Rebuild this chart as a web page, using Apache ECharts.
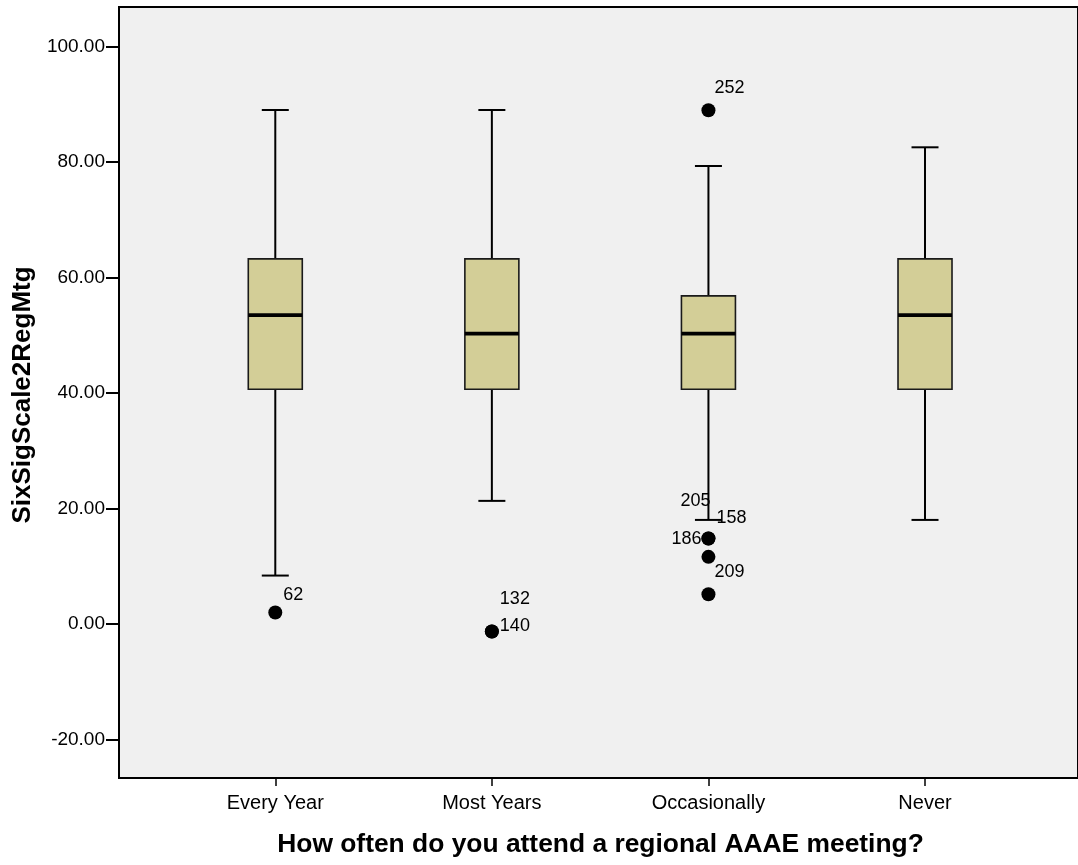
<!DOCTYPE html>
<html>
<head>
<meta charset="utf-8">
<style>
  html, body { margin: 0; padding: 0; background: #ffffff; }
  #chart { width: 1078px; height: 865px; }
</style>
<script src="https://cdn.jsdelivr.net/npm/echarts@6/dist/echarts.min.js"></script>
</head>
<body>
<div id="chart"></div>
<script>
// ---- data ----
var categories = ['Every Year', 'Most Years', 'Occasionally', 'Never'];
var whiskerLow  = [8.37, 21.31, 18.01, 18.01];
var quartile1   = [40.66, 40.66, 40.66, 40.66];
var medians     = [53.49, 50.29, 50.29, 53.49];
var quartile3   = [63.23, 63.23, 56.82, 63.23];
var whiskerHigh = [89.03, 89.03, 79.33, 82.57];

var outlierCategory = [0, 1, 1, 2, 2, 2, 2, 2];
var outlierValue    = [1.96, -1.33, -1.33, 88.98, 14.78, 14.78, 11.61, 5.14];
var outlierCase     = ['62', '132', '140', '252', '158', '205', '186', '209'];

var yTicks = [-20, 0, 20, 40, 60, 80, 100];

var xTitle = 'How often do you attend a regional AAAE meeting?';
var yTitle = 'SixSigScale2RegMtg';

// ---- label placement (styling, not data) ----
var labelPlacement = {
  '62':  { dx: 8,  dy: -18, align: 'left' },
  '132': { dx: 8,  dy: -33, align: 'left' },
  '140': { dx: 8,  dy: -6,  align: 'left' },
  '252': { dx: 6,  dy: -22, align: 'left' },
  '158': { dx: 8,  dy: -21, align: 'left' },
  '205': { dx: 2,  dy: -38, align: 'right' },
  '186': { dx: -7, dy: -18, align: 'right' },
  '209': { dx: 6,  dy: -22, align: 'left' }
};

var FONT = "'Liberation Sans', Arial, Helvetica, sans-serif";

var boxData = categories.map(function (c, i) {
  return [i, whiskerLow[i], quartile1[i], medians[i], quartile3[i], whiskerHigh[i]];
});
var outlierData = outlierValue.map(function (v, i) {
  return [outlierCategory[i], v, outlierCase[i]];
});

var chart = echarts.init(document.getElementById('chart'), null, { renderer: 'canvas' });

var option = {
  animation: false,
  backgroundColor: '#ffffff',
  grid: [
    { // frame
      left: 119, top: 7, width: 1000, bottom: 87,
      show: true, backgroundColor: '#f0f0f0', borderColor: '#000', borderWidth: 2
    },
    { // data grid
      left: 167, right: 44.7, top: 46.7, bottom: 125.7
    }
  ],
  xAxis: [
    { gridIndex: 0, type: 'value', show: false, min: 0, max: 1 },
    {
      gridIndex: 1, type: 'category', data: categories, boundaryGap: true,
      position: 'bottom',
      offset: 38.7,
      axisLine: { show: false, onZero: false },
      axisTick: { show: true, alignWithLabel: true, length: 8, lineStyle: { color: '#000', width: 1.5 } },
      axisLabel: { color: '#000', fontSize: 20, fontFamily: FONT, margin: 15 },
      splitLine: { show: false }
    }
  ],
  yAxis: [
    { gridIndex: 0, type: 'value', show: false, min: 0, max: 1 },
    {
      gridIndex: 1, type: 'value', min: yTicks[0], max: yTicks[yTicks.length - 1], interval: 20,
      offset: 48,
      axisLine: { show: false, onZero: false },
      axisTick: { show: true, length: 13, lineStyle: { color: '#000', width: 2 } },
      axisLabel: {
        color: '#000', fontSize: 19, fontFamily: FONT, margin: 14,
        formatter: function (v) { return v.toFixed(2); }
      },
      splitLine: { show: false }
    }
  ],
  series: [
    {
      type: 'custom',
      xAxisIndex: 1, yAxisIndex: 1,
      data: boxData,
      encode: { x: 0, y: [1, 2, 3, 4, 5] },
      z: 3,
      renderItem: function (params, api) {
        var x = api.value(0);
        var pLo = api.coord([x, api.value(1)]);
        var pQ1 = api.coord([x, api.value(2)]);
        var pMed = api.coord([x, api.value(3)]);
        var pQ3 = api.coord([x, api.value(4)]);
        var pHi = api.coord([x, api.value(5)]);
        var cx = pLo[0];
        var halfBox = 27, halfCap = 13.5;
        var lineStyle = { stroke: '#000', lineWidth: 2 };
        return {
          type: 'group',
          children: [
            { type: 'line', shape: { x1: cx, y1: pHi[1], x2: cx, y2: pQ3[1] }, style: lineStyle },
            { type: 'line', shape: { x1: cx, y1: pQ1[1], x2: cx, y2: pLo[1] }, style: lineStyle },
            { type: 'line', shape: { x1: cx - halfCap, y1: pHi[1], x2: cx + halfCap, y2: pHi[1] }, style: lineStyle },
            { type: 'line', shape: { x1: cx - halfCap, y1: pLo[1], x2: cx + halfCap, y2: pLo[1] }, style: lineStyle },
            { type: 'rect', shape: { x: cx - halfBox, y: pQ3[1], width: halfBox * 2, height: pQ1[1] - pQ3[1] },
              style: { fill: '#d3ce97', stroke: '#1a1a1a', lineWidth: 1.6 } },
            { type: 'line', shape: { x1: cx - halfBox, y1: pMed[1], x2: cx + halfBox, y2: pMed[1] },
              style: { stroke: '#000', lineWidth: 3.6 } }
          ]
        };
      }
    },
    {
      type: 'custom',
      xAxisIndex: 1, yAxisIndex: 1,
      data: outlierData,
      encode: { x: 0, y: 1 },
      z: 4,
      renderItem: function (params, api) {
        var p = api.coord([api.value(0), api.value(1)]);
        var id = outlierCase[params.dataIndex];
        var lp = labelPlacement[id] || { dx: 8, dy: -20, align: 'left' };
        return {
          type: 'group',
          children: [
            { type: 'circle', shape: { cx: p[0], cy: p[1], r: 7 }, style: { fill: '#000' } },
            { type: 'text', x: p[0] + lp.dx, y: p[1] + lp.dy,
              style: { text: id, fill: '#000', font: '18px ' + FONT, align: lp.align, verticalAlign: 'middle' } }
          ]
        };
      }
    }
  ],
  graphic: [
    {
      type: 'text', x: 600.5, y: 845, z: 10,
      style: { text: xTitle, fill: '#000', font: 'bold 26.4px ' + FONT, align: 'center', verticalAlign: 'middle' }
    },
    {
      type: 'text', x: 23, y: 395, rotation: Math.PI / 2, z: 10,
      style: { text: yTitle, fill: '#000', font: 'bold 26px ' + FONT, align: 'center', verticalAlign: 'middle' }
    }
  ]
};

chart.setOption(option);
</script>
</body>
</html>
